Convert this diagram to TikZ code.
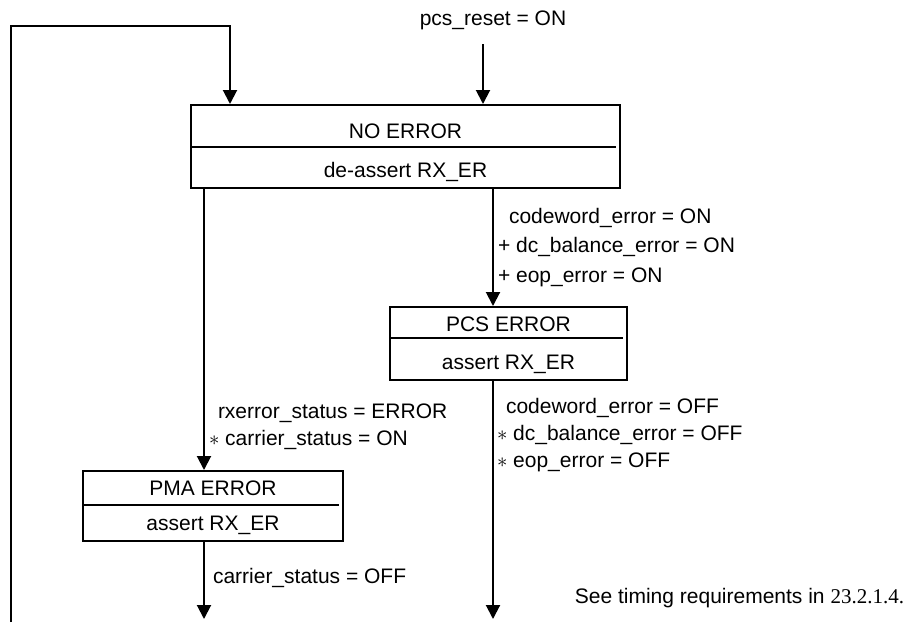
\documentclass[tikz,border=0pt]{standalone}
\usepackage{fontspec}
\setmainfont{Liberation Sans}
\newfontfamily\serifnum{Liberation Serif}
\usetikzlibrary{arrows.meta}
\begin{document}
\begin{tikzpicture}[x=1pt,y=-1pt, line width=2pt,
  box/.style={draw, line width=2pt, inner sep=0pt},
  txt/.style={font=\fontsize{21}{25}\selectfont, inner sep=0pt, anchor=base},
  lbl/.style={txt, anchor=base west},
  arr/.style={-{Triangle[width=14pt,length=14pt]}}]
\useasboundingbox (0,0) rectangle (910,622);
% boxes
\node[box, minimum width=429pt, minimum height=83pt] (noerr) at (405.5,146.5) {};
\draw (noerr.west) -- ([xshift=-5pt]noerr.east);
\node[txt] (noerrA) at (405.5,138) {NO ERROR};
\node[txt] (noerrB) at (405.5,177) {de-assert RX\_ER};

\node[box, minimum width=237pt, minimum height=73pt] (pcs) at (508.5,343.5) {};
\draw ([yshift=5.5pt]pcs.west) -- ([xshift=-5pt,yshift=5.5pt]pcs.east);
\node[txt] (pcsA) at (508.5,331) {PCS ERROR};
\node[txt] (pcsB) at (508.5,369) {assert RX\_ER};

\node[box, minimum width=260pt, minimum height=70pt] (pma) at (213,506) {};
\draw ([yshift=1pt]pma.west) -- ([xshift=-5pt,yshift=1pt]pma.east);
\node[txt] (pmaA) at (213,495) {PMA ERROR};
\node[txt] (pmaB) at (213,530) {assert RX\_ER};

% entry
\node[txt] (reset) at (493,25) {pcs\_reset = ON};
\coordinate (resetstart) at (483,44);
\draw[arr] (resetstart) -- (resetstart |- noerr.north);

% loop
\coordinate (loopbot) at (11,622);
\coordinate (looptop) at (11,26);
\draw[arr] (loopbot) -- (looptop) -| ([xshift=-175.5pt]noerr.north);

% transitions
\draw[arr] ([xshift=-15.5pt]pcs.north |- noerr.south) -- ([xshift=-15.5pt]pcs.north);
\draw[arr] ([xshift=-9pt]pma.north |- noerr.south) -- ([xshift=-9pt]pma.north);
\coordinate (pcsend) at (493,619);
\coordinate (pmaend) at (204,619);
\draw[arr] ([xshift=-15.5pt]pcs.south) -- (pcsend);
\draw[arr] ([xshift=-9pt]pma.south) -- (pmaend);

% labels
\node[lbl] (c1) at (508,223) {codeword\_error = ON};
\node[lbl] (c2) at (497,252) {+ dc\_balance\_error = ON};
\node[lbl] (c3) at (497,282) {+ eop\_error = ON};

\node[lbl] (d1) at (505,413) {codeword\_error = OFF};
\node[lbl] (d2) at (496,440) {$\ast$ dc\_balance\_error = OFF};
\node[lbl] (d3) at (496,467) {$\ast$ eop\_error = OFF};

\node[lbl] (e1) at (217,418) {rxerror\_status = ERROR};
\node[lbl] (e2) at (208,445) {$\ast$ carrier\_status = ON};

\node[lbl] (f1) at (212,583) {carrier\_status = OFF};

\node[txt, anchor=base east] (note) at (905,603) {See timing requirements in {\serifnum 23.2.1.4.}};
\end{tikzpicture}
\end{document}
